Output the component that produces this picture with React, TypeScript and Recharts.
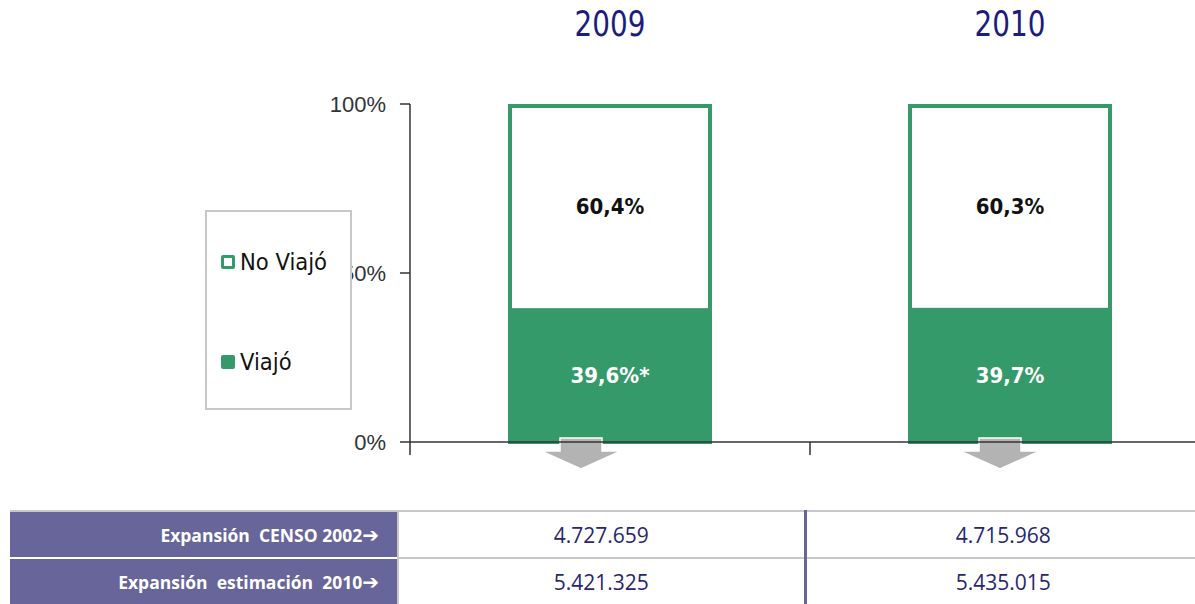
import { BarChart, Bar, XAxis, YAxis, Legend, LabelList } from 'recharts';

const years = ['2009', '2010'];
const viajo = [39.6, 39.7];
const noViajo = [60.4, 60.3];
const viajoNotes = ['*', ''];
const yTicks = [0, 50, 100];

const tableRows = ['Expansión  CENSO 2002', 'Expansión  estimación  2010'];
const censo2002 = ['4.727.659', '4.715.968'];
const estimacion2010 = ['5.421.325', '5.435.015'];

const data = years.map((year, i) => ({
  year,
  viajo: viajo[i],
  noViajo: noViajo[i],
  note: viajoNotes[i],
}));
const tableValues = [censo2002, estimacion2010];

const GREEN = '#359a69';
const NAVY = '#1c1c7e';
const PURPLE = '#676599';
const arrowShift = [-29, -10];

const fmt = (v: number) => `${v.toFixed(1).replace('.', ',')}%`;

const ViajoShape = (props: any) => {
  const { x, y, width, height, index } = props;
  const cx = x + width / 2 + (arrowShift[index] ?? 0);
  const b = y + height;
  const pts = [
    [cx - 21, b - 4],
    [cx + 21, b - 4],
    [cx + 21, b + 9],
    [cx + 40, b + 9],
    [cx, b + 27],
    [cx - 40, b + 9],
    [cx - 21, b + 9],
  ]
    .map((p) => p.join(','))
    .join(' ');
  return (
    <g>
      <rect x={x} y={y} width={width} height={height + 2} fill={GREEN} />
      <polygon points={pts} fill='#b3b3b3' stroke='#fff' strokeWidth={1.5} />
    </g>
  );
};

const NoViajoShape = (props: any) => {
  const { x, y, width, height } = props;
  return (
    <rect
      x={x + 2}
      y={y + 2}
      width={width - 4}
      height={height}
      fill='#fff'
      stroke={GREEN}
      strokeWidth={4}
    />
  );
};

const YearTick = (props: any) => {
  const { x, y, payload } = props;
  return (
    <text
      transform={`translate(${x},${y - 68}) scale(0.86,1)`}
      textAnchor='middle'
      fill={NAVY}
      style={{ fontFamily: '"DejaVu Sans Condensed", sans-serif', fontSize: 36 }}
    >
      {payload.value}
    </text>
  );
};

const BoundaryTick = (props: any) => {
  const { x, y, payload } = props;
  const half = payload.offset || 200;
  return <line x1={x - half} x2={x - half} y1={y} y2={y + 13} stroke='#333' strokeWidth={1.5} />;
};

const LegendBox = () => {
  const items = [
    { label: 'No Viajó', outline: true },
    { label: 'Viajó', outline: false },
  ];
  return (
    <div style={{ width: 143, height: 196, border: '2px solid #c8c8c8', background: '#fff', position: 'relative' }}>
      {items.map((it, i) => (
        <div
          key={it.label}
          style={{
            position: 'absolute',
            left: 14,
            top: 36 + i * 100,
            display: 'flex',
            alignItems: 'center',
            fontFamily: '"DejaVu Sans Condensed", sans-serif',
            fontSize: 23.5,
            color: '#111',
            whiteSpace: 'nowrap',
          }}
        >
          <span
            style={{
              display: 'inline-block',
              width: it.outline ? 8 : 14,
              height: it.outline ? 8 : 14,
              border: it.outline ? `3px solid ${GREEN}` : 'none',
              background: it.outline ? '#fff' : GREEN,
              borderRadius: 2,
              marginRight: 5,
            }}
          />
          {it.label}
        </div>
      ))}
    </div>
  );
};

const cell: React.CSSProperties = {
  height: 45,
  textAlign: 'center',
  fontFamily: '"Open Sans", sans-serif',
  fontSize: 21,
  color: '#27276f',
  padding: 0,
};

export default function App() {
  return (
    <div style={{ position: 'absolute', left: 0, top: 0, width: 1195, height: 604, overflow: 'hidden', background: '#fff' }}>
      <BarChart
        width={1215}
        height={490}
        data={data}
        margin={{ top: 4, right: 5, left: 350, bottom: 34 }}
      >
        <XAxis
          xAxisId='top'
          dataKey='year'
          orientation='top'
          height={100}
          axisLine={false}
          tickLine={false}
          tickSize={0}
          tickMargin={0}
          tick={<YearTick />}
        />
        <XAxis
          dataKey='year'
          height={14}
          axisLine={{ stroke: '#333', strokeWidth: 1.5 }}
          tickLine={false}
          tickSize={0}
          tickMargin={0}
          tick={<BoundaryTick />}
        />
        <YAxis
          width={60}
          domain={[0, 100]}
          ticks={yTicks}
          tickFormatter={(v) => `${v}%`}
          tickSize={10}
          tickMargin={14}
          axisLine={{ stroke: '#333', strokeWidth: 1.5 }}
          tickLine={{ stroke: '#333', strokeWidth: 1.5 }}
          tick={{ fill: '#333', fontSize: 22, fontFamily: '"Liberation Sans", sans-serif' }}
        />
        <Legend
          layout='vertical'
          align='center'
          verticalAlign='middle'
          content={<LegendBox />}
          wrapperStyle={{ left: 205, top: 210, width: 147, height: 200 }}
        />
        <Bar dataKey='viajo' stackId='a' barSize={204} shape={<ViajoShape />} isAnimationActive={false}>
          <LabelList
            dataKey='viajo'
            position='center'
            content={(p: any) => (
              <text
                x={p.x + p.width / 2}
                y={p.y + p.height / 2 + 8}
                textAnchor='middle'
                fill='#fff'
                style={{ fontFamily: '"DejaVu Sans Condensed", sans-serif', fontWeight: 700, fontSize: 22 }}
              >
                {fmt(p.value) + (data[p.index]?.note ?? '')}
              </text>
            )}
          />
        </Bar>
        <Bar dataKey='noViajo' stackId='a' barSize={204} shape={<NoViajoShape />} isAnimationActive={false}>
          <LabelList
            dataKey='noViajo'
            position='center'
            content={(p: any) => (
              <text
                x={p.x + p.width / 2}
                y={p.y + p.height / 2 + 8}
                textAnchor='middle'
                fill='#111'
                style={{ fontFamily: '"DejaVu Sans Condensed", sans-serif', fontWeight: 700, fontSize: 22 }}
              >
                {fmt(p.value)}
              </text>
            )}
          />
        </Bar>
      </BarChart>
      <table
        style={{
          position: 'absolute',
          left: 10,
          top: 510,
          width: 1190,
          borderCollapse: 'collapse',
          tableLayout: 'fixed',
        }}
      >
        <colgroup>
          <col style={{ width: 388 }} />
          <col style={{ width: 407 }} />
          <col style={{ width: 395 }} />
        </colgroup>
        <tbody>
          {tableRows.map((label, r) => (
            <tr key={label} style={{ borderTop: '2px solid #c8c8c8' }}>
              <td
                style={{
                  ...cell,
                  background: PURPLE,
                  color: '#fff',
                  fontWeight: 700,
                  fontSize: 17.5,
                  textAlign: 'right',
                  paddingRight: 18,
                  whiteSpace: 'pre',
                  borderTop: r === 0 ? '2px solid #c8c8c8' : '2px solid #fff',
                  borderRight: '2px solid #c8c8c8',
                }}
              >
                {label}
                <span style={{ fontFamily: '"DejaVu Sans", sans-serif', fontSize: 20 }}>➔</span>
              </td>
              <td style={{ ...cell, borderRight: `3px solid ${PURPLE}` }}>{tableValues[r][0]}</td>
              <td style={cell}>{tableValues[r][1]}</td>
            </tr>
          ))}
        </tbody>
      </table>
    </div>
  );
}
